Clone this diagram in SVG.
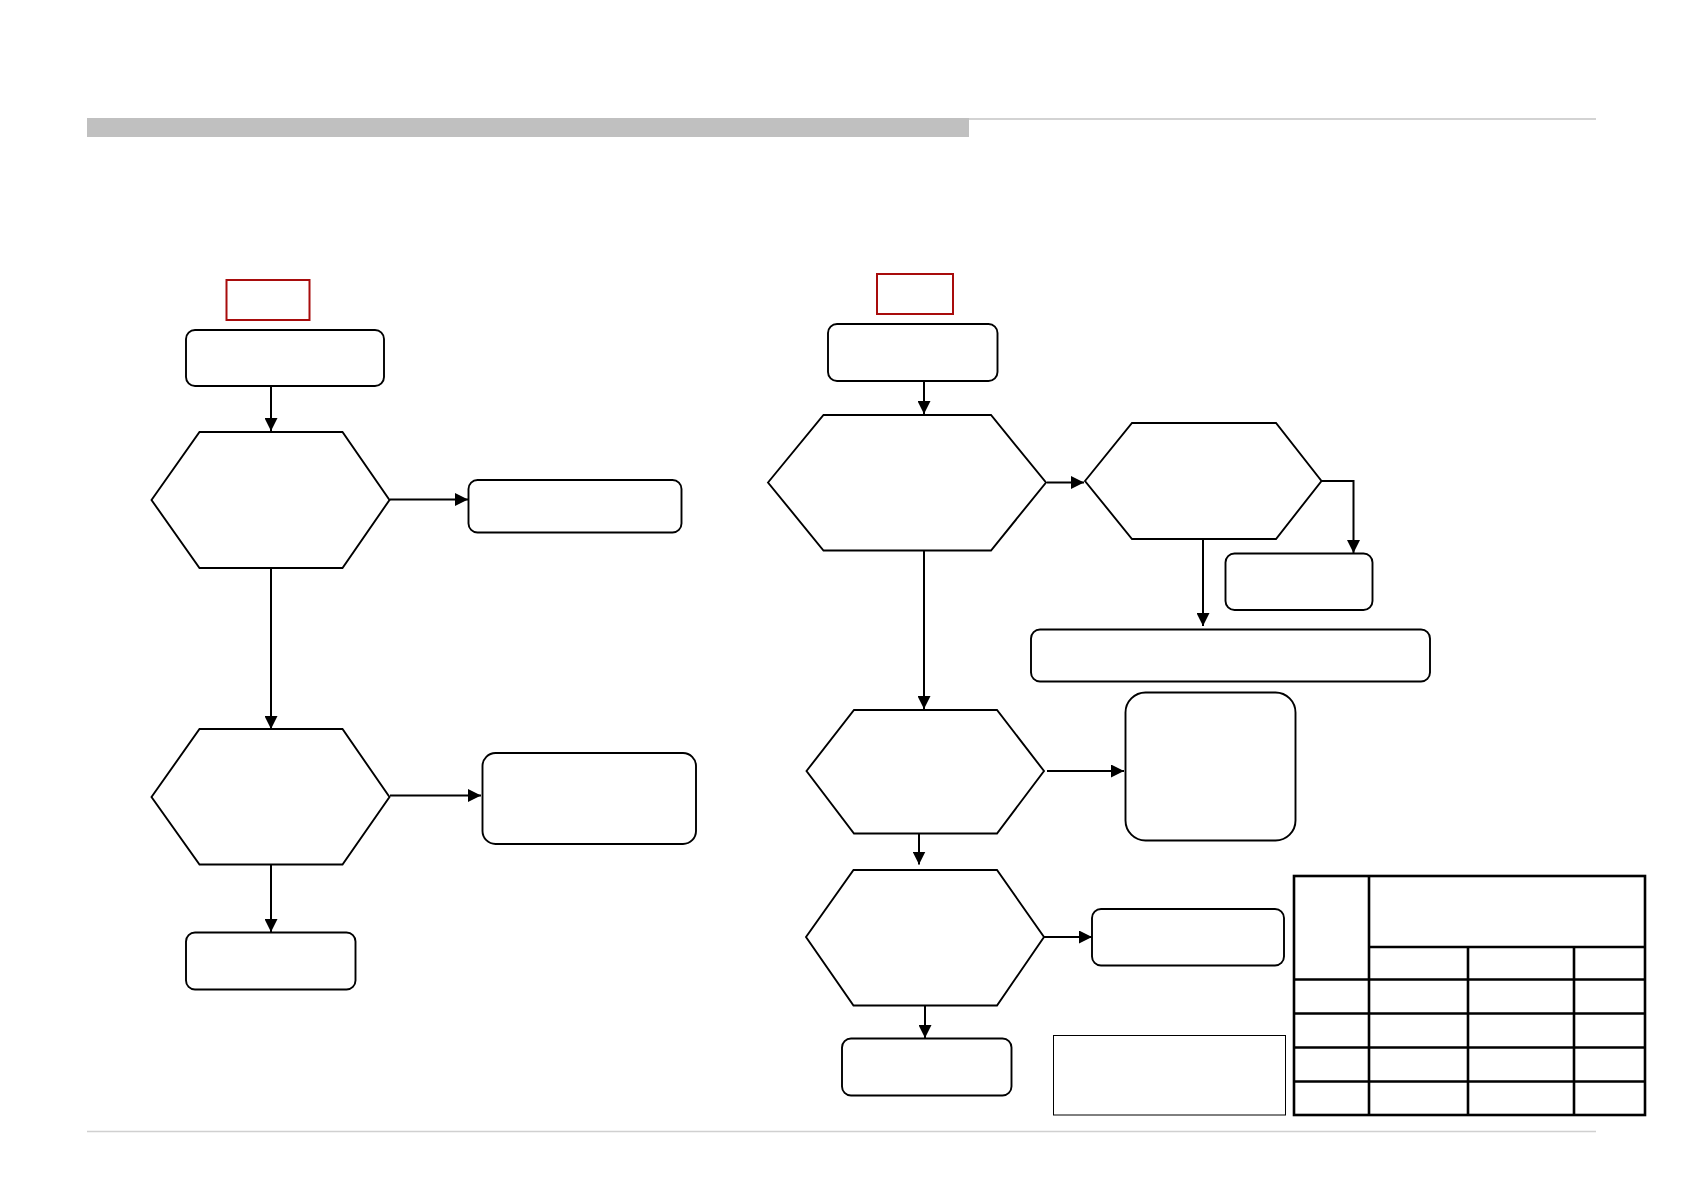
<svg xmlns="http://www.w3.org/2000/svg" width="1683" height="1191" viewBox="0 0 1683 1191">
<style>
.s{fill:#fff;stroke:#000;stroke-width:1.9}
.r{fill:#fff;stroke:#a80c0c;stroke-width:2}
.c{fill:none;stroke:#000;stroke-width:2}
.t{fill:none;stroke:#000;stroke-width:2.6}
</style>
<defs>
<marker id="ah" viewBox="0 0 13 13" refX="13" refY="6.5" markerWidth="13" markerHeight="13" markerUnits="userSpaceOnUse" orient="auto">
<path d="M0,0 L13,6.5 L0,13 z" fill="#000"/>
</marker>
</defs>
<rect width="1683" height="1191" fill="#fff"/>
<g id="header">
<rect x="87" y="118" width="882" height="19" fill="#c0c0c0"/>
<line x1="969" y1="119" x2="1596" y2="119" stroke="#c4c4c4" stroke-width="1.5"/>
<line x1="87" y1="1131.5" x2="1596" y2="1131.5" stroke="#d0d0d0" stroke-width="1.5"/>
</g>
<g id="connectors">
<line class="c" x1="271" y1="386" x2="271" y2="431" marker-end="url(#ah)"/>
<line class="c" x1="390" y1="499.5" x2="468" y2="499.5" marker-end="url(#ah)"/>
<line class="c" x1="271" y1="568" x2="271" y2="729" marker-end="url(#ah)"/>
<line class="c" x1="390" y1="795.5" x2="481" y2="795.5" marker-end="url(#ah)"/>
<line class="c" x1="271" y1="865" x2="271" y2="932" marker-end="url(#ah)"/>
<line class="c" x1="924" y1="381" x2="924" y2="414" marker-end="url(#ah)"/>
<line class="c" x1="1047" y1="482.5" x2="1084" y2="482.5" marker-end="url(#ah)"/>
<polyline class="c" points="1321,481 1353.5,481 1353.5,553" marker-end="url(#ah)"/>
<line class="c" x1="1203" y1="539" x2="1203" y2="626" marker-end="url(#ah)"/>
<line class="c" x1="924" y1="551" x2="924" y2="709" marker-end="url(#ah)"/>
<line class="c" x1="1047" y1="771" x2="1124" y2="771" marker-end="url(#ah)"/>
<line class="c" x1="919" y1="834" x2="919" y2="864.5" marker-end="url(#ah)"/>
<line class="c" x1="1044" y1="937" x2="1092" y2="937" marker-end="url(#ah)"/>
<line class="c" x1="925" y1="1006" x2="925" y2="1038" marker-end="url(#ah)"/>
</g>
<g id="left-label"><rect class="r" x="226.5" y="280" width="83" height="40"/></g>
<g id="left-start"><rect class="s" x="186" y="330" width="198" height="56" rx="9"/></g>
<g id="left-decision1"><polygon class="s" points="151.5,500 199.5,432 342.5,432 389.5,500 342.5,568 199.5,568"/></g>
<g id="left-result1"><rect class="s" x="468.5" y="480" width="213" height="52.5" rx="9"/></g>
<g id="left-decision2"><polygon class="s" points="151.5,797 199.5,729 342.5,729 389.5,797 342.5,864.5 199.5,864.5"/></g>
<g id="left-result2"><rect class="s" x="482.5" y="753" width="213.5" height="91" rx="13"/></g>
<g id="left-end"><rect class="s" x="186" y="932.5" width="169.5" height="57" rx="9"/></g>
<g id="right-label"><rect class="r" x="877" y="274" width="76" height="40"/></g>
<g id="right-start"><rect class="s" x="828" y="324" width="169.5" height="57" rx="9"/></g>
<g id="right-decisionA"><polygon class="s" points="768,482.5 823.5,415 991,415 1046,482.5 991,550.5 823.5,550.5"/></g>
<g id="right-decisionB"><polygon class="s" points="1085,481 1132,423 1276,423 1321.5,481 1276,539 1132,539"/></g>
<g id="right-resultB1"><rect class="s" x="1225.5" y="553.5" width="147" height="56.5" rx="9"/></g>
<g id="right-resultB2"><rect class="s" x="1031" y="629.5" width="399" height="52" rx="9"/></g>
<g id="right-decisionC"><polygon class="s" points="806.5,771 854,710 997,710 1044,771 997,833.5 854,833.5"/></g>
<g id="right-resultC"><rect class="s" x="1125.5" y="692.5" width="170" height="148" rx="20"/></g>
<g id="right-decisionD"><polygon class="s" points="806,937 853.5,870 997,870 1044,937 997,1005.5 853.5,1005.5"/></g>
<g id="right-resultD"><rect class="s" x="1092" y="909" width="192" height="56.5" rx="9"/></g>
<g id="right-end"><rect class="s" x="842" y="1038.5" width="169.5" height="57" rx="9"/></g>
<g id="note"><rect x="1053.5" y="1035.5" width="232" height="79.5" fill="#fff" stroke="#000" stroke-width="1"/></g>
<g id="table">
<rect class="t" x="1294" y="876" width="351" height="239" fill="#fff"/>
<line class="t" x1="1369" y1="876" x2="1369" y2="1115"/>
<line class="t" x1="1369" y1="947" x2="1645" y2="947"/>
<line class="t" x1="1468" y1="947" x2="1468" y2="1115"/>
<line class="t" x1="1574" y1="947" x2="1574" y2="1115"/>
<line class="t" x1="1294" y1="979.5" x2="1645" y2="979.5"/>
<line class="t" x1="1294" y1="1013.5" x2="1645" y2="1013.5"/>
<line class="t" x1="1294" y1="1047.5" x2="1645" y2="1047.5"/>
<line class="t" x1="1294" y1="1081.5" x2="1645" y2="1081.5"/>
</g>
</svg>
